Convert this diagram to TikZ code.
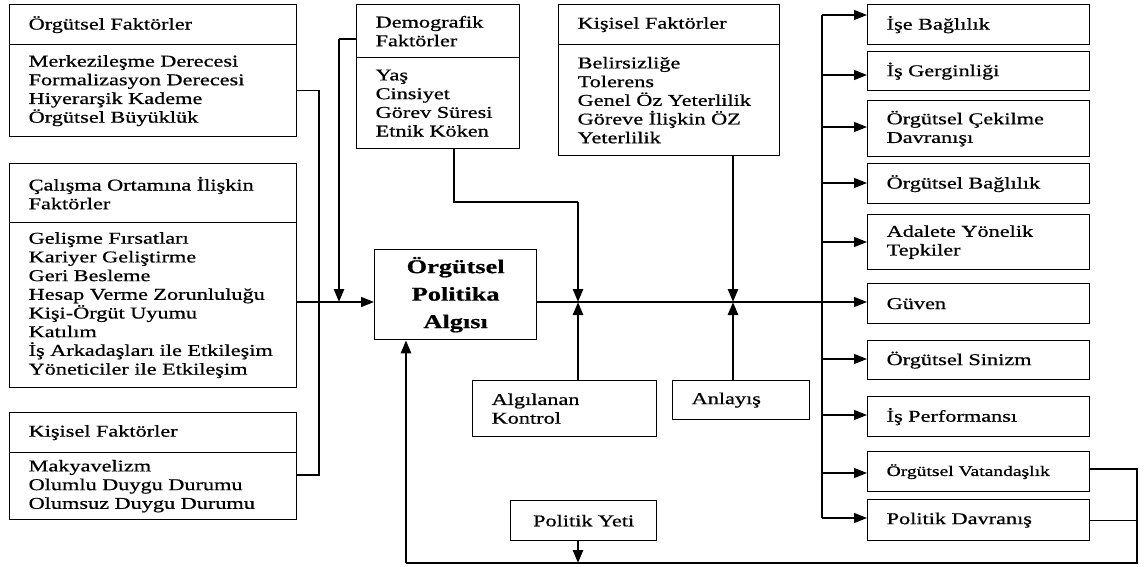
\documentclass[tikz,border=0pt]{standalone}
\usepackage{fontspec}
\setmainfont{Liberation Serif}[FakeStretch=1.35, FakeBold=0.7]
\usetikzlibrary{arrows.meta}

\tikzset{
  box/.style 2 args={draw, line width=1.3pt, anchor=north west, inner xsep=19pt, inner ysep=1pt,
    text width=#1pt, minimum height=#2pt, align=left, font=\fontsize{16.5}{18.7}\selectfont},
  thinl/.style={line width=1.3pt},
  thickl/.style={line width=2.6pt},
  arr/.style={-{Triangle[length=13pt,width=10pt]}},
}

\begin{document}
\begin{tikzpicture}[x=1pt, y=-1pt]
  \useasboundingbox (0,0) rectangle (1145,566);

  % left column
  \node[box={249}{40}]  at (9,4)   (orgh) {Örgütsel Faktörler};
  \node[box={249}{92}]  at (9,44)  (orgb) {Merkezileşme Derecesi\\Formalizasyon Derecesi\\Hiyerarşik Kademe\\Örgütsel Büyüklük};
  \node[box={249}{59}]  at (9,163) (calh) {Çalışma Ortamına İlişkin\\Faktörler};
  \node[box={249}{165}] at (9,222) (calb) {Gelişme Fırsatları\\Kariyer Geliştirme\\Geri Besleme\\Hesap Verme Zorunluluğu\\Kişi-Örgüt Uyumu\\Katılım\\İş Arkadaşları ile Etkileşim\\Yöneticiler ile Etkileşim};
  \node[box={249}{40}]  at (9,412) (kish) {Kişisel Faktörler};
  \node[box={249}{67}]  at (9,452) (kisb) {Makyavelizm\\Olumlu Duygu Durumu\\Olumsuz Duygu Durumu};

  % top middle
  \node[box={125}{53}]  at (356,4)  (demh) {Demografik\\Faktörler};
  \node[box={125}{91}]  at (356,57) (demb) {Yaş\\Cinsiyet\\Görev Süresi\\Etnik Köken};
  \node[box={183}{40}]  at (558,4)  (perh) {Kişisel Faktörler};
  \node[box={183}{111}] at (558,44) (perb) {Belirsizliğe\\Tolerens\\Genel Öz Yeterlilik\\Göreve İlişkin ÖZ\\Yeterlilik};

  \node[draw, line width=1.3pt, anchor=north west, minimum width=162pt, minimum height=90pt, align=center,
        font=\fontsize{19.5}{27.5}\selectfont\bfseries] at (374,249) (central) {Örgütsel\\Politika\\Algısı};

  \node[box={146}{56}] at (472,380) (alg) {Algılanan\\Kontrol};
  \node[box={99}{39}]  at (672,380) (anl) {Anlayış};
  \node[box={108}{40}, align=center] at (510,500) (yeti) {Politik Yeti};

  % right column
  \node[box={184}{40}] at (867,4)   (r1)  {İşe Bağlılık};
  \node[box={184}{39}] at (867,51)  (r2)  {İş Gerginliği};
  \node[box={184}{56}] at (867,100) (r3)  {Örgütsel Çekilme\\Davranışı};
  \node[box={184}{40}] at (867,163) (r4)  {Örgütsel Bağlılık};
  \node[box={184}{55}] at (867,214) (r5)  {Adalete Yönelik\\Tepkiler};
  \node[box={184}{40}] at (867,283) (r6)  {Güven};
  \node[box={184}{39}] at (867,340) (r7)  {Örgütsel Sinizm};
  \node[box={184}{40}] at (867,396) (r8)  {İş Performansı};
  \node[box={184}{40}, font=\fontsize{14.5}{17}\selectfont] at (867,451) (r9)  {Örgütsel Vatandaşlık};
  \node[box={184}{41}] at (867,499) (r10) {Politik Davranış};

  \coordinate (lbus) at (319,302);
  \coordinate (l3) at (319,475);
  \coordinate (d1) at (454,202);
  \coordinate (d2) at (339,39);
  \coordinate (k1) at (733,302);
  \coordinate (k2) at (578,302);
  \coordinate (q1) at (1137,469);
  \coordinate (q2) at (1137,563);
  \coordinate (q3) at (406,563);

  \draw[thinl] (orgb.east) -| (lbus);
  \draw[thinl] (kisb.east |- l3) -- (l3) -- (lbus);
  \draw[thinl, arr] (calb.east |- lbus) -- (lbus -| central.west);

  \draw[thinl] (demh.west |- d2) -- (d2);
  \draw[thickl, arr] (d2) -- (d2 |- lbus);
  \draw[thinl] (demb.south -| d1) -- (d1) -- (k2 |- d1);
  \draw[thickl, arr] (k2 |- d1) -- (k2);
  \draw[thickl, arr] (perb.south -| k1) -- (k1);

  \draw[thinl, arr] (central.east |- lbus) -- (lbus -| r6.west);
  \draw[thickl, arr] (alg.north -| k2) -- (k2);
  \draw[thickl, arr] (anl.north -| k1) -- (k1);

  \draw[thinl] (r9.east |- q1) -- (q1) -- (q2) -- (q3);
  \draw[thinl] (r10.east) -- (r10.east -| q1);
  \draw[thickl, arr] (q3) -- (q3 |- central.south);
  \draw[thickl, arr] (yeti.south -| k2) -- (k2 |- q3);

  % right bus
  \coordinate (b1) at (822,15);
  \coordinate (b2) at (822,75);
  \coordinate (b3) at (822,127);
  \coordinate (b4) at (822,183);
  \coordinate (b5) at (822,242);
  \coordinate (b7) at (822,359);
  \coordinate (b8) at (822,415);
  \coordinate (b9) at (822,473);
  \coordinate (b10) at (822,518);
  \draw[thinl] (b1) -- (b10);
  \draw[thinl, arr] (b1) -- (b1 -| r1.west);
  \draw[thinl, arr] (b2) -- (b2 -| r2.west);
  \draw[thinl, arr] (b3) -- (b3 -| r3.west);
  \draw[thinl, arr] (b4) -- (b4 -| r4.west);
  \draw[thinl, arr] (b5) -- (b5 -| r5.west);
  \draw[thinl, arr] (b7) -- (b7 -| r7.west);
  \draw[thinl, arr] (b8) -- (b8 -| r8.west);
  \draw[thinl, arr] (b9) -- (b9 -| r9.west);
  \draw[thinl, arr] (b10) -- (b10 -| r10.west);
\end{tikzpicture}
\end{document}
